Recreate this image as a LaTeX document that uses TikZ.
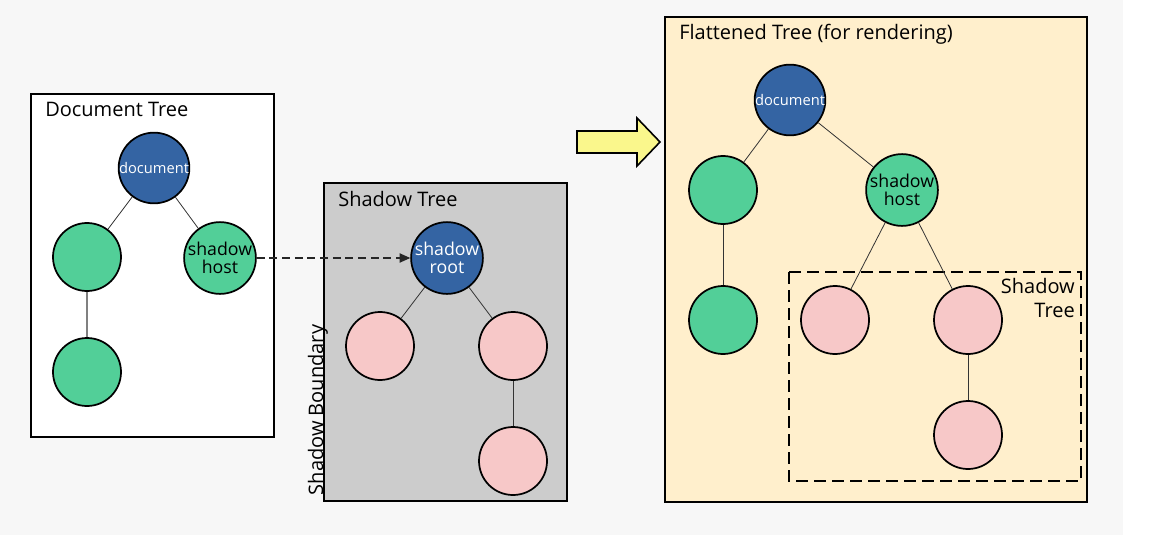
\documentclass[tikz,border=0pt]{standalone}
\usepackage{fontspec}
\setmainfont{Open Sans}
\usetikzlibrary{arrows.meta}
\definecolor{bgc}{HTML}{F7F7F7}
\definecolor{docblue}{HTML}{3464A3}
\definecolor{nodegreen}{HTML}{52CF98}
\definecolor{nodepink}{HTML}{F7C8C8}
\definecolor{shadowgray}{HTML}{CCCCCC}
\definecolor{cream}{HTML}{FFEFCC}
\definecolor{arrowyellow}{HTML}{FAF78C}
\tikzset{
  tnode/.style={circle, draw=black, line width=1.3pt, minimum size=51pt, inner sep=0pt, align=center},
  bluenode/.style={tnode, fill=docblue, text=white},
  greennode/.style={tnode, fill=nodegreen},
  pinknode/.style={tnode, fill=nodepink},
  panel/.style={draw=black, line width=1.4pt},
  ptitle/.style={anchor=base west, inner sep=0pt, font=\fontsize{15}{18}\selectfont},
  edge/.style={draw=black!80, line width=0.6pt},
  small/.style={font=\fontsize{11}{13}\selectfont},
  mid/.style={font=\fontsize{13.3}{13.8}\selectfont},
}
\begin{document}
\begin{tikzpicture}[x=0.75pt, y=-0.75pt]
\useasboundingbox (0,0) rectangle (1151,535);
\fill[bgc] (0,0) rectangle (1123,535);
\fill[white] (1123,0) rectangle (1151,535);

% panels
\draw[panel, fill=white] (31,94) rectangle (274,437);
\draw[panel, fill=shadowgray] (324,183) rectangle (567,501);
\draw[panel, fill=cream] (665,17) rectangle (1087,502);
\draw[line width=1.4pt, dash pattern=on 9pt off 4.5pt] (789,272) rectangle (1081,481);

% titles
\node[ptitle] (t1) at (45,116) {Document Tree};
\node[ptitle] (t2) at (338,206) {Shadow Tree};
\node[ptitle] (t3) at (679,40) {Flattened Tree (for rendering)};
\node[anchor=base east, inner sep=0pt, font=\fontsize{15}{18}\selectfont] (t4) at (1075,293) {Shadow};
\node[anchor=base east, inner sep=0pt, font=\fontsize{15}{18}\selectfont] (t5) at (1075,317) {Tree};
\node[rotate=90, inner sep=0pt, font=\fontsize{15}{18}\selectfont] (sb) at (318,410) {Shadow Boundary};

% document tree
\node[bluenode, small] (d1) at (154,168) {document};
\node[greennode] (d2) at (87,257) {};
\node[greennode, mid] (d3) at (220,258) {shadow\\host};
\node[greennode] (d4) at (87,372) {};
\draw[edge] (d1) -- (d2);
\draw[edge] (d1) -- (d3);
\draw[edge, draw=black!50, line width=1pt] (d2) -- (d4);

% shadow tree
\node[bluenode, mid] (s1) at (447,258) {shadow\\root};
\node[pinknode] (s2) at (380,346) {};
\node[pinknode] (s3) at (513,346) {};
\node[pinknode] (s4) at (513,461) {};
\draw[edge] (s1) -- (s2);
\draw[edge] (s1) -- (s3);
\draw[edge] (s3) -- (s4);

\draw[line width=0.8pt, draw=black!85, dash pattern=on 6pt off 3.5pt, -{Triangle[length=8pt,width=7pt]}] (d3) -- (s1);

% flattened tree
\node[bluenode, small] (f1) at (790,100) {document};
\node[greennode] (f2) at (723,190) {};
\node[greennode, mid] (f3) at (902,190) {shadow\\host};
\node[greennode] (f4) at (723,320) {};
\node[pinknode] (f5) at (835,320) {};
\node[pinknode] (f6) at (968,320) {};
\node[pinknode] (f7) at (968,435) {};
\draw[edge] (f1) -- (f2);
\draw[edge] (f1) -- (f3);
\draw[edge] (f2) -- (f4);
\draw[edge] (f3) -- (f5);
\draw[edge] (f3) -- (f6);
\draw[edge] (f6) -- (f7);

% yellow block arrow
\draw[fill=arrowyellow, draw=black, line width=1.2pt, line join=miter]
  (577,131) -- (637,131) -- (637,118) -- (660,142) -- (637,166) -- (637,153) -- (577,153) -- cycle;
\end{tikzpicture}
\end{document}
